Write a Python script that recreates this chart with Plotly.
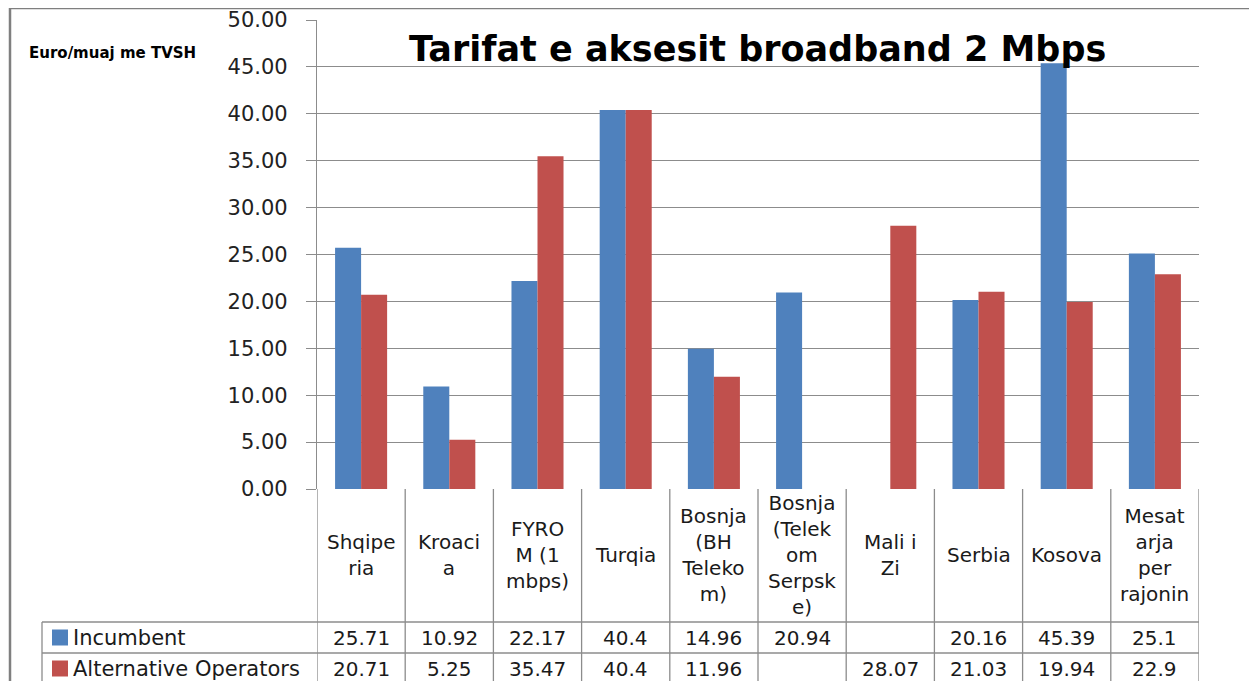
import plotly.graph_objects as go

categories = ["Shqiperia", "Kroacia", "FYROM (1 mbps)", "Turqia", "Bosnja (BH Telekom)",
              "Bosnja (Telekom Serpske)", "Mali i Zi", "Serbia", "Kosova", "Mesatarja per rajonin"]
header_labels = ["Shqipe<br>ria", "Kroaci<br>a", "FYRO<br>M (1<br>mbps)", "Turqia",
                 "Bosnja<br>(BH<br>Teleko<br>m)", "Bosnja<br>(Telek<br>om<br>Serpsk<br>e)",
                 "Mali i<br>Zi", "Serbia", "Kosova", "Mesat<br>arja<br>per<br>rajonin"]
incumbent = [25.71, 10.92, 22.17, 40.4, 14.96, 20.94, None, 20.16, 45.39, 25.1]
alternative = [20.71, 5.25, 35.47, 40.4, 11.96, None, 28.07, 21.03, 19.94, 22.9]
series_names = ["Incumbent", "Alternative Operators"]
colors = ["#4F81BD", "#C0504D"]
y_ticks = [0, 5, 10, 15, 20, 25, 30, 35, 40, 45, 50]

W, H = 1257, 681
OFF = 8  # page body margin
L, R, T, B = 317, 1199, 20, 489  # reference pixel coords of the plot area
PW, PH = R - L, B - T
FONT = "DejaVu Sans"
GRID = "#8c8c8c"


def px(x):
    return (x - L) / PW


def py(y):
    return (B - y) / PH


fig = go.Figure()
for name, vals, col in zip(series_names, [incumbent, alternative], colors):
    fig.add_trace(go.Bar(x=categories, y=vals, name=name, marker=dict(color=col, line=dict(width=0)),
                         showlegend=False))

shapes = []
annotations = []
n = len(categories)
row1_bot, row2_bot, tbl_bot, leg_left = 622, 653, 681, 42
for i in range(n + 1):
    shapes.append(dict(type="line", xref="x", yref="paper", x0=i - 0.5, x1=i - 0.5,
                       y0=py(B), y1=py(tbl_bot + 10), line=dict(color=GRID, width=1.3)))
for yy in [row1_bot, row2_bot]:
    shapes.append(dict(type="line", xref="paper", yref="paper", x0=px(leg_left), x1=px(R),
                       y0=py(yy), y1=py(yy), line=dict(color=GRID, width=1.3)))
shapes.append(dict(type="line", xref="paper", yref="paper", x0=px(leg_left), x1=px(leg_left),
                   y0=py(row1_bot), y1=py(tbl_bot + 10), line=dict(color=GRID, width=1.3)))
shapes.append(dict(type="line", xref="paper", yref="paper", x0=px(10), x1=px(10),
                   y0=py(8), y1=py(H + 10), line=dict(color="#7f7f7f", width=2.5)))
shapes.append(dict(type="line", xref="paper", yref="paper", x0=px(10), x1=px(W + 10),
                   y0=py(8), y1=py(8), line=dict(color="#7f7f7f", width=2.5)))

TF = 20
for cat, lab in zip(categories, header_labels):
    annotations.append(dict(x=cat, xref="x", y=py(555), yref="paper", text=lab, showarrow=False,
                            font=dict(family=FONT, size=TF, color="#1a1a1a"), align="center",
                            xanchor="center", yanchor="middle"))
for r, (name, vals, col) in enumerate(zip(series_names, [incumbent, alternative], colors)):
    yc = 637.5 + r * 31
    for cat, v in zip(categories, vals):
        if v is None:
            continue
        annotations.append(dict(x=cat, xref="x", y=py(yc), yref="paper", text=f"{v:g}",
                                showarrow=False, font=dict(family=FONT, size=TF, color="#1a1a1a"),
                                xanchor="center", yanchor="middle"))
    shapes.append(dict(type="rect", xref="paper", yref="paper", x0=px(52), x1=px(68),
                       y0=py(yc - 8), y1=py(yc + 8), fillcolor=col, line=dict(width=0)))
    annotations.append(dict(x=px(71), xref="paper", y=py(yc), yref="paper", text=name,
                            showarrow=False, font=dict(family=FONT, size=TF + 1, color="#1a1a1a"),
                            xanchor="left", yanchor="middle"))

annotations.append(dict(x=px(757), xref="paper", y=py(49), yref="paper",
                        text="<b>Tarifat e aksesit broadband 2 Mbps</b>", showarrow=False,
                        font=dict(family=FONT, size=35, color="#000"), xanchor="center",
                        yanchor="middle"))
annotations.append(dict(x=px(27), xref="paper", y=py(53), yref="paper",
                        text="<b>Euro/muaj me TVSH</b>", showarrow=False,
                        font=dict(family=FONT, size=15, color="#000"), xanchor="left",
                        yanchor="middle"))

fig.update_layout(
    width=W, height=H,
    margin=dict(l=L - OFF, r=W - (R - OFF), t=T - OFF, b=H - (B - OFF), autoexpand=False),
    paper_bgcolor="white", plot_bgcolor="white",
    barmode="group", bargap=0.41, bargroupgap=0,
    shapes=shapes, annotations=annotations,
    xaxis=dict(type="category", range=[-0.5, n - 0.5], showticklabels=False, showgrid=False,
               zeroline=False, showline=False, ticks=""),
    yaxis=dict(range=[0, 50], tickvals=y_ticks, ticktext=[f"{v:.2f}" for v in y_ticks],
               showgrid=True, gridcolor=GRID, gridwidth=1.3, zeroline=False,
               showline=True, linecolor=GRID, linewidth=1.3, ticks="outside", ticklen=10,
               tickcolor=GRID, tickwidth=1.3, ticklabelstandoff=14,
               tickfont=dict(family=FONT, size=21, color="#222")),
    font=dict(family=FONT),
)

fig.write_html("out.html")
